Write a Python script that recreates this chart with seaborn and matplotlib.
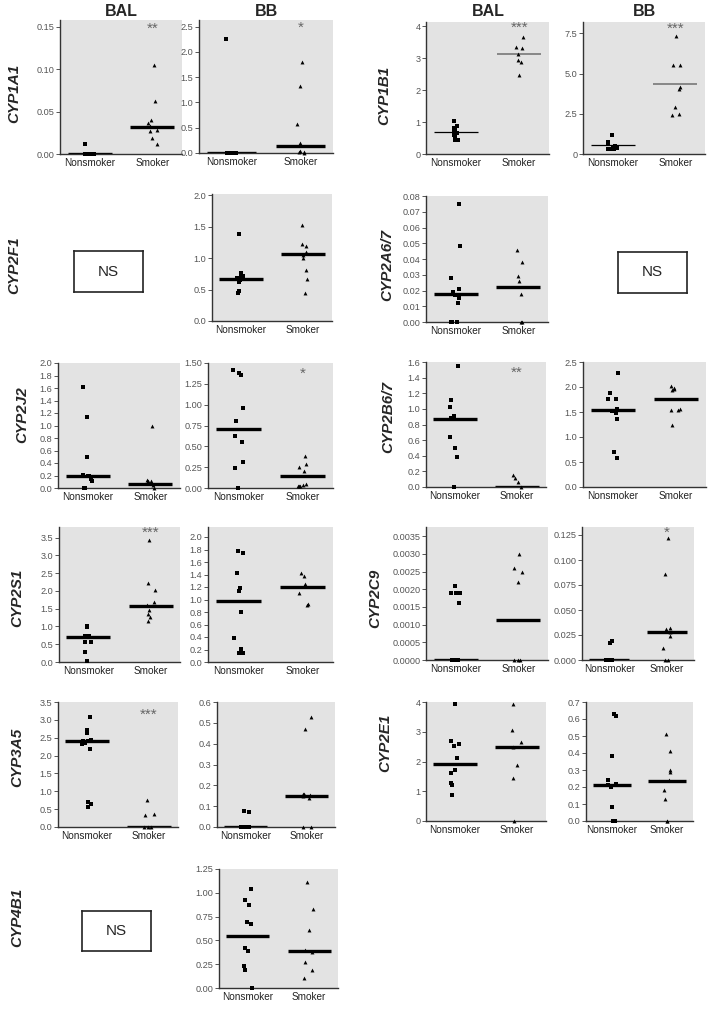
import numpy as np
import matplotlib
matplotlib.use("Agg")
import matplotlib.pyplot as plt
import seaborn as sns

sns.set_theme(style="white")
plt.rcParams['font.family'] = ['Liberation Sans', 'DejaVu Sans']
np.random.seed(7)

categories = ["Nonsmoker", "Smoker"]
columns = ["BAL", "BB"]

# ---------------- data ----------------
cyp1a1_bal_non = [0.012, 0, 0, 0, 0, 0, 0, 0, 0, 0]
cyp1a1_bal_smk = [0.105, 0.062, 0.040, 0.037, 0.033, 0.028, 0.027, 0.019, 0.012]
cyp1a1_bal_med = [0.0, 0.032]
cyp1a1_bb_non = [2.25, 0, 0, 0, 0, 0, 0, 0, 0]
cyp1a1_bb_smk = [1.80, 1.33, 0.58, 0.20, 0.15, 0.03, 0.02, 0.01, 0.0]
cyp1a1_bb_med = [0.0, 0.14]

cyp1b1_bal_non = [1.02, 0.88, 0.82, 0.75, 0.70, 0.65, 0.58, 0.55, 0.45, 0.43]
cyp1b1_bal_smk = [3.67, 3.35, 3.33, 3.12, 2.95, 2.88, 2.48]
cyp1b1_bal_med = [0.70, 3.12]
cyp1b1_bb_non = [1.20, 0.75, 0.60, 0.50, 0.45, 0.40, 0.35, 0.30, 0.30, 0.28]
cyp1b1_bb_smk = [7.30, 5.55, 5.50, 4.15, 4.05, 2.95, 2.50, 2.45]
cyp1b1_bb_med = [0.55, 4.35]

cyp2f1_bb_non = [1.38, 0.76, 0.72, 0.70, 0.68, 0.66, 0.62, 0.48, 0.45]
cyp2f1_bb_smk = [1.52, 1.22, 1.19, 1.10, 1.05, 1.00, 0.81, 0.67, 0.44]
cyp2f1_bb_med = [0.67, 1.06]

cyp2a67_bal_non = [0.075, 0.048, 0.028, 0.021, 0.019, 0.017, 0.015, 0.012, 0, 0, 0]
cyp2a67_bal_smk = [0.046, 0.038, 0.029, 0.026, 0.018, 0, 0]
cyp2a67_bal_med = [0.0175, 0.0225]

cyp2j2_bal_non = [1.62, 1.13, 0.50, 0.21, 0.20, 0.19, 0.15, 0.12, 0, 0]
cyp2j2_bal_smk = [0.99, 0.13, 0.12, 0.11, 0.08, 0.05, 0.0]
cyp2j2_bal_med = [0.19, 0.07]
cyp2j2_bb_non = [1.42, 1.38, 1.36, 0.96, 0.80, 0.62, 0.55, 0.31, 0.24, 0.0]
cyp2j2_bb_smk = [0.39, 0.29, 0.25, 0.21, 0.05, 0.04, 0.03, 0.02, 0.02]
cyp2j2_bb_med = [0.71, 0.14]

cyp2b67_bal_non = [1.55, 1.12, 1.02, 0.91, 0.88, 0.87, 0.64, 0.50, 0.39, 0.0]
cyp2b67_bal_smk = [0.15, 0.12, 0.07, 0.0]
cyp2b67_bal_med = [0.87, 0.0]
cyp2b67_bb_non = [2.28, 1.88, 1.76, 1.76, 1.56, 1.52, 1.48, 1.36, 0.70, 0.58]
cyp2b67_bb_smk = [2.02, 1.98, 1.96, 1.94, 1.56, 1.55, 1.54, 1.24]
cyp2b67_bb_med = [1.55, 1.76]

cyp2s1_bal_non = [1.00, 0.98, 0.72, 0.72, 0.70, 0.70, 0.57, 0.56, 0.27, 0.02]
cyp2s1_bal_smk = [3.43, 2.22, 2.03, 1.68, 1.60, 1.45, 1.35, 1.28, 1.16]
cyp2s1_bal_med = [0.70, 1.57]
cyp2s1_bb_non = [1.78, 1.74, 1.42, 1.19, 1.14, 0.80, 0.39, 0.21, 0.15, 0.15]
cyp2s1_bb_smk = [1.43, 1.38, 1.25, 1.21, 1.11, 0.93, 0.92]
cyp2s1_bb_med = [0.97, 1.20]

cyp2c9_bal_non = [0.0021, 0.0019, 0.0019, 0.0019, 0.0016, 0, 0, 0, 0, 0]
cyp2c9_bal_smk = [0.0030, 0.0026, 0.0025, 0.0022, 0, 0, 0]
cyp2c9_bal_med = [0.0, 0.00112]
cyp2c9_bb_non = [0.019, 0.017, 0, 0, 0, 0, 0, 0, 0]
cyp2c9_bb_smk = [0.122, 0.086, 0.032, 0.031, 0.028, 0.024, 0.012, 0, 0]
cyp2c9_bb_med = [0.0, 0.028]

cyp3a5_bal_non = [3.07, 2.72, 2.62, 2.44, 2.42, 2.40, 2.36, 2.32, 2.19, 0.70, 0.65, 0.55]
cyp3a5_bal_smk = [0.77, 0.37, 0.34, 0, 0, 0]
cyp3a5_bal_med = [2.40, 0.0]
cyp3a5_bb_non = [0.078, 0.074, 0, 0, 0, 0, 0, 0]
cyp3a5_bb_smk = [0.53, 0.47, 0.16, 0.16, 0.155, 0.15, 0.14, 0, 0]
cyp3a5_bb_med = [0.0, 0.15]

cyp2e1_bal_non = [3.92, 2.70, 2.58, 2.52, 2.12, 1.72, 1.62, 1.28, 1.22, 0.87]
cyp2e1_bal_smk = [3.92, 3.05, 2.65, 2.50, 1.88, 1.45, 0.0]
cyp2e1_bal_med = [1.90, 2.48]
cyp2e1_bb_non = [0.63, 0.62, 0.38, 0.24, 0.22, 0.21, 0.20, 0.08, 0, 0, 0]
cyp2e1_bb_smk = [0.51, 0.41, 0.30, 0.29, 0.24, 0.18, 0.13, 0, 0]
cyp2e1_bb_med = [0.21, 0.235]

cyp4b1_bb_non = [1.04, 0.92, 0.87, 0.69, 0.67, 0.42, 0.39, 0.23, 0.19, 0.0]
cyp4b1_bb_smk = [1.11, 0.83, 0.61, 0.40, 0.38, 0.27, 0.19, 0.11]
cyp4b1_bb_med = [0.55, 0.39]

# ---------------- layout ----------------
W, H = 709, 1014
fig = plt.figure(figsize=(W / 100, H / 100), dpi=100)
fig.patch.set_facecolor("white")

NARROW = ['Liberation Sans Narrow', 'Liberation Sans', 'DejaVu Sans']


def px_rect(l, r, t, b):
    return [l / W, 1 - b / H, (r - l) / W, (b - t) / H]


def panel(box, non, smk, med, yticks, ymax, fmt, star=None, star_y=None, thin=False):
    ax = fig.add_axes(px_rect(*box))
    ax.set_facecolor('#e3e3e3')
    sns.stripplot(x=["Nonsmoker"] * len(non), y=non, order=categories, marker='s',
                  size=2.9, color='black', jitter=0.08, ax=ax, clip_on=False, linewidth=0)
    sns.stripplot(x=["Smoker"] * len(smk), y=smk, order=categories, marker='^',
                  size=2.8, color='black', jitter=0.08, ax=ax, clip_on=False, linewidth=0)
    if thin:
        ax.hlines(med[0], -0.35, 0.35, colors='black', lw=0.9, zorder=1)
        ax.hlines(med[1], 0.65, 1.35, colors='#808080', lw=1.3, zorder=1)
    else:
        ax.hlines(med, [-0.35, 0.65], [0.35, 1.35], colors='black', lw=2.4, zorder=1)
    ax.set_xlim(-0.47, 1.47)
    ax.set_ylim(0, ymax)
    ax.set_yticks(yticks)
    ax.set_yticklabels([fmt.format(v) for v in yticks], family=NARROW)
    ax.set_xticks([0, 1])
    ax.set_xticklabels(categories, family=NARROW)
    ax.set_xlabel('')
    ax.set_ylabel('')
    for s in ['top', 'right']:
        ax.spines[s].set_visible(False)
    for s in ['left', 'bottom']:
        ax.spines[s].set_color('#333333')
        ax.spines[s].set_linewidth(1.0)
    ax.tick_params(axis='y', length=3, width=0.7, color='#555555', labelsize=6.6,
                   labelcolor='#555555', pad=1, left=True)
    ax.tick_params(axis='x', length=0, labelsize=7.2, labelcolor='#222222', pad=3)
    if star:
        ax.text(1, star_y, star, ha='center', va='center', color='#666666', fontsize=11)
    return ax


def ns_box(box):
    ax = fig.add_axes(px_rect(*box))
    ax.set_xticks([])
    ax.set_yticks([])
    ax.set_facecolor('white')
    for s in ax.spines.values():
        s.set_color('#222222')
        s.set_linewidth(1.2)
        s.set_visible(True)
    ax.text(0.5, 0.5, "NS", ha='center', va='center', fontsize=11, transform=ax.transAxes)


def gene_label(x, y, txt):
    fig.text(x / W, 1 - y / H, txt, rotation=90, ha='center', va='center',
             fontsize=11, fontweight='bold', fontstyle='italic')


def col_title(x, txt):
    fig.text(x / W, 1 - 12 / H, txt, ha='center', va='center', fontsize=11.5, fontweight='bold')


col_title(121, columns[0]); col_title(266, columns[1])
col_title(488, columns[0]); col_title(644, columns[1])

# Row 1
gene_label(14, 93, "CYP1A1")
panel((60, 182, 20, 154), cyp1a1_bal_non, cyp1a1_bal_smk, cyp1a1_bal_med,
      [0, 0.05, 0.10, 0.15], 0.158, "{:.2f}", "**", 0.148)
panel((199, 333, 20, 153), cyp1a1_bb_non, cyp1a1_bb_smk, cyp1a1_bb_med,
      [0, 0.5, 1.0, 1.5, 2.0, 2.5], 2.63, "{:.1f}", "*", 2.47)
gene_label(384, 95, "CYP1B1")
panel((426, 549, 22, 154), cyp1b1_bal_non, cyp1b1_bal_smk, cyp1b1_bal_med,
      [0, 1, 2, 3, 4], 4.13, "{:.0f}", "***", 3.95, thin=True)
ax = panel((583, 705, 22, 154), cyp1b1_bb_non, cyp1b1_bb_smk, cyp1b1_bb_med,
           [0, 2.5, 5.0, 7.5], 8.2, "{:.1f}", "***", 7.8, thin=True)
ax.set_yticklabels(["0", "2.5", "5.0", "7.5"], family=NARROW)

# Row 2
gene_label(14, 265, "CYP2F1")
ns_box((74, 143, 251, 292))
panel((212, 332, 194, 321), cyp2f1_bb_non, cyp2f1_bb_smk, cyp2f1_bb_med,
      [0, 0.5, 1.0, 1.5, 2.0], 2.02, "{:.1f}")
gene_label(387, 265, "CYP2A6/7")
panel((426, 548, 196, 322), cyp2a67_bal_non, cyp2a67_bal_smk, cyp2a67_bal_med,
      [0, 0.01, 0.02, 0.03, 0.04, 0.05, 0.06, 0.07, 0.08], 0.08, "{:.2f}")
ns_box((618, 687, 252, 293))

# Row 3
gene_label(22, 415, "CYP2J2")
panel((58, 180, 363, 488), cyp2j2_bal_non, cyp2j2_bal_smk, cyp2j2_bal_med,
      [0, 0.2, 0.4, 0.6, 0.8, 1.0, 1.2, 1.4, 1.6, 1.8, 2.0], 2.0, "{:.1f}")
panel((208, 333, 363, 488), cyp2j2_bb_non, cyp2j2_bb_smk, cyp2j2_bb_med,
      [0, 0.25, 0.5, 0.75, 1.0, 1.25, 1.5], 1.5, "{:.2f}", "*", 1.37)
gene_label(388, 417, "CYP2B6/7")
panel((426, 546, 362, 487), cyp2b67_bal_non, cyp2b67_bal_smk, cyp2b67_bal_med,
      [0, 0.2, 0.4, 0.6, 0.8, 1.0, 1.2, 1.4, 1.6], 1.6, "{:.1f}", "**", 1.46)
panel((583, 706, 362, 487), cyp2b67_bb_non, cyp2b67_bb_smk, cyp2b67_bb_med,
      [0, 0.5, 1.0, 1.5, 2.0, 2.5], 2.5, "{:.1f}")

# Row 4
gene_label(17, 598, "CYP2S1")
panel((59, 180, 527, 662), cyp2s1_bal_non, cyp2s1_bal_smk, cyp2s1_bal_med,
      [0, 0.5, 1.0, 1.5, 2.0, 2.5, 3.0, 3.5], 3.8, "{:.1f}", "***", 3.63)
panel((208, 333, 527, 662), cyp2s1_bb_non, cyp2s1_bb_smk, cyp2s1_bb_med,
      [0, 0.2, 0.4, 0.6, 0.8, 1.0, 1.2, 1.4, 1.6, 1.8, 2.0], 2.16, "{:.1f}")
gene_label(375, 598, "CYP2C9")
panel((426, 548, 527, 660), cyp2c9_bal_non, cyp2c9_bal_smk, cyp2c9_bal_med,
      [0, 0.0005, 0.0010, 0.0015, 0.0020, 0.0025, 0.0030, 0.0035], 0.00376, "{:.4f}")
panel((582, 694, 527, 660), cyp2c9_bb_non, cyp2c9_bb_smk, cyp2c9_bb_med,
      [0, 0.025, 0.05, 0.075, 0.1, 0.125], 0.133, "{:.3f}", "*", 0.127)

# Row 5
gene_label(17, 757, "CYP3A5")
panel((58, 178, 702, 827), cyp3a5_bal_non, cyp3a5_bal_smk, cyp3a5_bal_med,
      [0, 0.5, 1.0, 1.5, 2.0, 2.5, 3.0, 3.5], 3.5, "{:.1f}", "***", 3.15)
panel((217, 335, 702, 827), cyp3a5_bb_non, cyp3a5_bb_smk, cyp3a5_bb_med,
      [0, 0.1, 0.2, 0.3, 0.4, 0.5, 0.6], 0.6, "{:.1f}")
gene_label(385, 743, "CYP2E1")
panel((426, 546, 702, 821), cyp2e1_bal_non, cyp2e1_bal_smk, cyp2e1_bal_med,
      [0, 1, 2, 3, 4], 4.0, "{:.0f}")
panel((586, 693, 702, 821), cyp2e1_bb_non, cyp2e1_bb_smk, cyp2e1_bb_med,
      [0, 0.1, 0.2, 0.3, 0.4, 0.5, 0.6, 0.7], 0.7, "{:.1f}")

# Row 6
gene_label(17, 917, "CYP4B1")
ns_box((82, 151, 911, 951))
panel((219, 338, 869, 988), cyp4b1_bb_non, cyp4b1_bb_smk, cyp4b1_bb_med,
      [0, 0.25, 0.5, 0.75, 1.0, 1.25], 1.25, "{:.2f}")

fig.savefig("out.png", dpi=100, facecolor="white")
